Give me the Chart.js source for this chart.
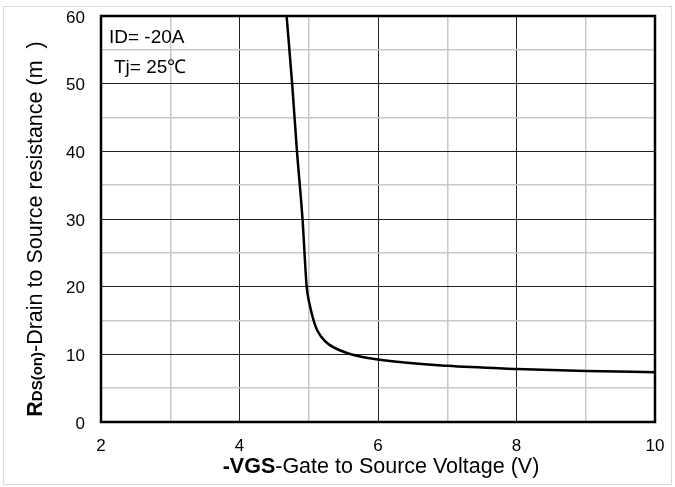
<!DOCTYPE html>
<html lang="en">
<head>
    <meta charset="UTF-8">
    <title>RDS(on) vs VGS</title>
    <script src="https://cdn.jsdelivr.net/npm/chart.js"></script>
    <style>
        body {
            margin: 0;
            padding: 0;
            background-color: #ffffff;
        }
        #wrap {
            width: 675px;
            height: 487px;
        }
    </style>
</head>
<body>
    <div id="wrap"><canvas id="rds-chart" width="675" height="487"></canvas></div>
    <script>
        // values
        const vgs = [4.68, 4.76, 4.83, 4.91, 4.97, 5.01, 5.07, 5.12, 5.24, 5.55, 6, 7, 8, 9, 10];
        const rds = [60, 50, 40, 30, 20, 17.5, 15, 13.6, 11.9, 10.2, 9.25, 8.3, 7.85, 7.55, 7.35];
        const xTicks = [2, 4, 6, 8, 10];
        const yTicks = [0, 10, 20, 30, 40, 50, 60];
        const notes = ['ID= -20A', 'Tj= 25\u2103'];

        const FONT = '"Liberation Sans", Arial, sans-serif';

        // frame, thick plot border, notes and the mixed-style axis titles
        const decorations = {
            id: 'decorations',
            afterDraw(chart) {
                const ctx = chart.ctx;
                const a = chart.chartArea;
                ctx.save();

                ctx.strokeStyle = '#d9d9d9';
                ctx.lineWidth = 1;
                ctx.strokeRect(3.5, 6.5, 668, 478);

                ctx.strokeStyle = '#000';
                ctx.lineWidth = 2.5;
                ctx.strokeRect(a.left, a.top, a.right - a.left, a.bottom - a.top);

                ctx.fillStyle = '#000';
                ctx.textBaseline = 'middle';
                ctx.textAlign = 'left';
                ctx.font = '19px ' + FONT;
                ctx.fillText(notes[0], a.left + 8, a.top + 22);
                ctx.fillText(notes[1], a.left + 13, a.top + 52);

                // x title
                const p1 = '-VGS', p2 = '-Gate to Source Voltage (V)';
                ctx.font = 'bold 21.5px ' + FONT;
                const w1 = ctx.measureText(p1).width;
                ctx.font = '21.5px ' + FONT;
                const w2 = ctx.measureText(p2).width;
                let x = 381 - (w1 + w2) / 2;
                ctx.font = 'bold 21.5px ' + FONT;
                ctx.fillText(p1, x, 467);
                ctx.font = '21.5px ' + FONT;
                ctx.fillText(p2, x + w1, 467);

                // y title
                const s1 = 'R', s2 = 'DS(on)', s3 = '-Drain to Source resistance (m  )';
                ctx.translate(36, 229);
                ctx.rotate(-Math.PI / 2);
                ctx.font = 'bold 21.5px ' + FONT;
                const r1 = ctx.measureText(s1).width;
                ctx.font = 'bold 15px ' + FONT;
                const r2 = ctx.measureText(s2).width;
                ctx.font = '21.5px ' + FONT;
                const r3 = ctx.measureText(s3).width;
                x = -(r1 + r2 + r3) / 2;
                ctx.font = 'bold 21.5px ' + FONT;
                ctx.fillText(s1, x, 0);
                ctx.font = 'bold 15px ' + FONT;
                ctx.fillText(s2, x + r1, 2);
                ctx.font = '21.5px ' + FONT;
                ctx.fillText(s3, x + r1 + r2, 0);

                ctx.restore();
            }
        };

        new Chart(document.getElementById('rds-chart').getContext('2d'), {
            type: 'scatter',
            data: {
                datasets: [{
                    data: vgs.map((v, i) => ({ x: v, y: rds[i] })),
                    showLine: true,
                    borderColor: '#000',
                    borderWidth: 2.5,
                    pointRadius: 0,
                    cubicInterpolationMode: 'monotone',
                    fill: false
                }]
            },
            options: {
                responsive: false,
                animation: false,
                events: [],
                layout: { padding: { top: 16, right: 20, left: 0, bottom: 0 } },
                plugins: {
                    legend: { display: false },
                    tooltip: { enabled: false }
                },
                scales: {
                    x: {
                        type: 'linear',
                        min: 2,
                        max: 10,
                        ticks: {
                            stepSize: 1,
                            autoSkip: false,
                            maxRotation: 0,
                            color: '#000',
                            font: { family: FONT, size: 17 },
                            padding: 14,
                            callback: v => xTicks.includes(v) ? v : ''
                        },
                        grid: {
                            color: c => (c.tick.value % 2 === 0) ? '#222' : '#c8c8c8',
                            lineWidth: c => (c.tick.value % 2 === 0) ? 1 : 1.5,
                            drawTicks: false
                        },
                        border: { display: false },
                        afterFit: s => {
                            s.height = 65;
                            s.paddingLeft = 0;
                            s.paddingRight = 0;
                        }
                    },
                    y: {
                        min: 0,
                        max: 60,
                        ticks: {
                            stepSize: 5,
                            autoSkip: false,
                            color: '#000',
                            font: { family: FONT, size: 17 },
                            padding: 16,
                            labelOffset: 2,
                            callback: v => yTicks.includes(v) ? v : ''
                        },
                        grid: {
                            color: c => (c.tick.value % 10 === 0) ? '#222' : '#c8c8c8',
                            lineWidth: c => (c.tick.value % 10 === 0) ? 1 : 1.5,
                            drawTicks: false
                        },
                        border: { display: false },
                        afterFit: s => {
                            s.width = 101;
                            s.paddingTop = 0;
                            s.paddingBottom = 0;
                        }
                    }
                }
            },
            plugins: [decorations]
        });
    </script>
</body>
</html>
